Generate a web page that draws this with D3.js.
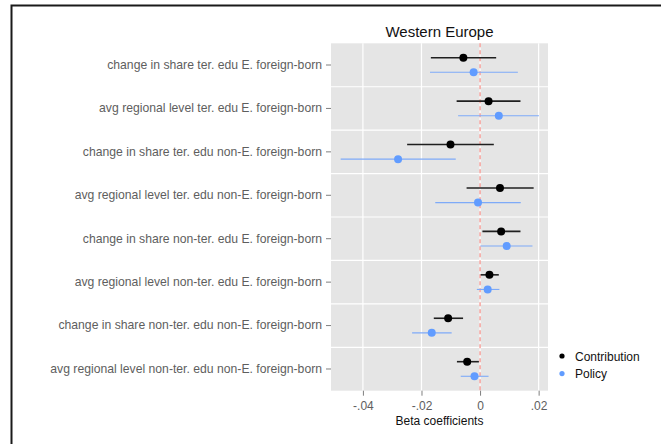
<!DOCTYPE html>
<html>
<head>
<meta charset="utf-8">
<script src="https://cdn.jsdelivr.net/npm/d3@7"></script>
<style>
  html, body { margin: 0; padding: 0; background: #fff; }
  svg { display: block; font-family: "Liberation Sans", Arial, Helvetica, sans-serif; }
</style>
</head>
<body>
<svg id="chart" width="661" height="444"></svg>
<script>
// Coefficient plot: two series per predictor with confidence intervals
const categories = [
  "change in share ter. edu E. foreign-born",
  "avg regional level ter. edu E. foreign-born",
  "change in share ter. edu non-E. foreign-born",
  "avg regional level ter. edu non-E. foreign-born",
  "change in share non-ter. edu E. foreign-born",
  "avg regional level non-ter. edu E. foreign-born",
  "change in share non-ter. edu non-E. foreign-born",
  "avg regional level non-ter. edu non-E. foreign-born"
];
const seriesNames = ["Contribution", "Policy"];

const contributionEst = [-0.0057, 0.0029, -0.0101, 0.0068, 0.0072, 0.0032, -0.0109, -0.0044];
const contributionLo  = [-0.0168, -0.0080, -0.0249, -0.0046, 0.0008, 0.0002, -0.0158, -0.0079];
const contributionHi  = [0.0055, 0.0138, 0.0047, 0.0183, 0.0138, 0.0064, -0.0058, -0.0004];

const policyEst = [-0.0022, 0.0064, -0.0280, -0.0007, 0.0091, 0.0026, -0.0165, -0.0019];
const policyLo  = [-0.0171, -0.0075, -0.0476, -0.0153, 0.0001, -0.0011, -0.0232, -0.0066];
const policyHi  = [0.0129, 0.0201, -0.0083, 0.0139, 0.0179, 0.0066, -0.0097, 0.0029];

const xTicks = [-0.04, -0.02, 0, 0.02];
const xTickLabels = ["-.04", "-.02", "0", ".02"];
const titleText = "Western Europe";
const xAxisTitle = "Beta coefficients";

const svg = d3.select("#chart");

// outer frame
svg.append("rect")
  .attr("x", 11.5).attr("y", 5.5)
  .attr("width", 700).attr("height", 500)
  .attr("fill", "none").attr("stroke", "#1a1a1a").attr("stroke-width", 2);

const panel = { left: 331, right: 548, top: 43.3, bottom: 390.7 };

const x = d3.scaleLinear()
  .domain([-0.0509, 0.0232])
  .range([panel.left, panel.right]);

const y = d3.scaleBand()
  .domain(categories)
  .range([panel.top, panel.bottom]);

const g = svg.append("g");

// panel background
g.append("rect")
  .attr("x", panel.left).attr("y", panel.top)
  .attr("width", panel.right - panel.left).attr("height", panel.bottom - panel.top)
  .attr("fill", "#e5e5e5");

// vertical grid lines
g.selectAll(".vgrid").data(xTicks).join("line")
  .attr("x1", d => x(d)).attr("x2", d => x(d))
  .attr("y1", panel.top).attr("y2", panel.bottom)
  .attr("stroke", "#fff").attr("stroke-width", 1.2);

// horizontal separators between predictors
g.selectAll(".hgrid").data(categories.slice(1)).join("line")
  .attr("x1", panel.left).attr("x2", panel.right)
  .attr("y1", d => y(d)).attr("y2", d => y(d))
  .attr("stroke", "#fff").attr("stroke-width", 1.2);

// zero reference line
g.append("line")
  .attr("x1", x(0)).attr("x2", x(0))
  .attr("y1", panel.top).attr("y2", panel.bottom)
  .attr("stroke", "#f4837b").attr("stroke-width", 1.1)
  .attr("stroke-dasharray", "4,3");

const offset = 7.3;
const series = [
  { name: seriesNames[0], est: contributionEst, lo: contributionLo, hi: contributionHi,
    dy: -offset, line: "#1f1f1f", lw: 1.6, fill: "#000", r: 4 },
  { name: seriesNames[1], est: policyEst, lo: policyLo, hi: policyHi,
    dy: offset, line: "#7eaaf8", lw: 1.1, fill: "#619cff", r: 4 }
];

series.forEach(s => {
  const rows = categories.map((c, i) => ({ c, est: s.est[i], lo: s.lo[i], hi: s.hi[i] }));
  const cy = d => y(d.c) + y.bandwidth() / 2 + s.dy;
  g.append("g").selectAll("line").data(rows).join("line")
    .attr("x1", d => x(d.lo)).attr("x2", d => x(d.hi))
    .attr("y1", cy).attr("y2", cy)
    .attr("stroke", s.line).attr("stroke-width", s.lw);
  g.append("g").selectAll("circle").data(rows).join("circle")
    .attr("cx", d => x(d.est)).attr("cy", cy)
    .attr("r", s.r).attr("fill", s.fill);
});

// y axis
const yAxis = svg.append("g")
  .attr("transform", `translate(${panel.left},0)`)
  .call(d3.axisLeft(y).tickSize(5).tickPadding(4));
yAxis.select(".domain").remove();
yAxis.selectAll(".tick line").attr("stroke", "#7f7f7f");
yAxis.selectAll(".tick text")
  .attr("fill", "#5e5e5e").style("font-size", "12.2px")
  .style("font-family", "'Liberation Sans', Arial, sans-serif");

// x axis
const xAxis = svg.append("g")
  .attr("transform", `translate(0,${panel.bottom})`)
  .call(d3.axisBottom(x).tickValues(xTicks).tickFormat((d, i) => xTickLabels[i]).tickSize(5).tickPadding(6));
xAxis.select(".domain").remove();
xAxis.selectAll(".tick line").attr("stroke", "#7f7f7f");
xAxis.selectAll(".tick text")
  .attr("fill", "#5e5e5e").style("font-size", "12px")
  .style("font-family", "'Liberation Sans', Arial, sans-serif");

// axis title
svg.append("text")
  .attr("x", (panel.left + panel.right) / 2).attr("y", 425)
  .attr("text-anchor", "middle")
  .style("font-size", "12px").attr("fill", "#111")
  .text(xAxisTitle);

// title
svg.append("text")
  .attr("x", (panel.left + panel.right) / 2).attr("y", 37)
  .attr("text-anchor", "middle")
  .style("font-size", "15px").attr("fill", "#111")
  .text(titleText);

// legend
const legend = svg.append("g").attr("transform", "translate(562,356)");
series.forEach((s, i) => {
  const row = legend.append("g").attr("transform", `translate(0,${i * 17.6})`);
  row.append("circle").attr("r", 2.6).attr("fill", s.fill);
  row.append("text").attr("x", 13).attr("y", 4.5)
    .style("font-size", "12px").attr("fill", "#111")
    .text(s.name);
});
</script>
</body>
</html>
